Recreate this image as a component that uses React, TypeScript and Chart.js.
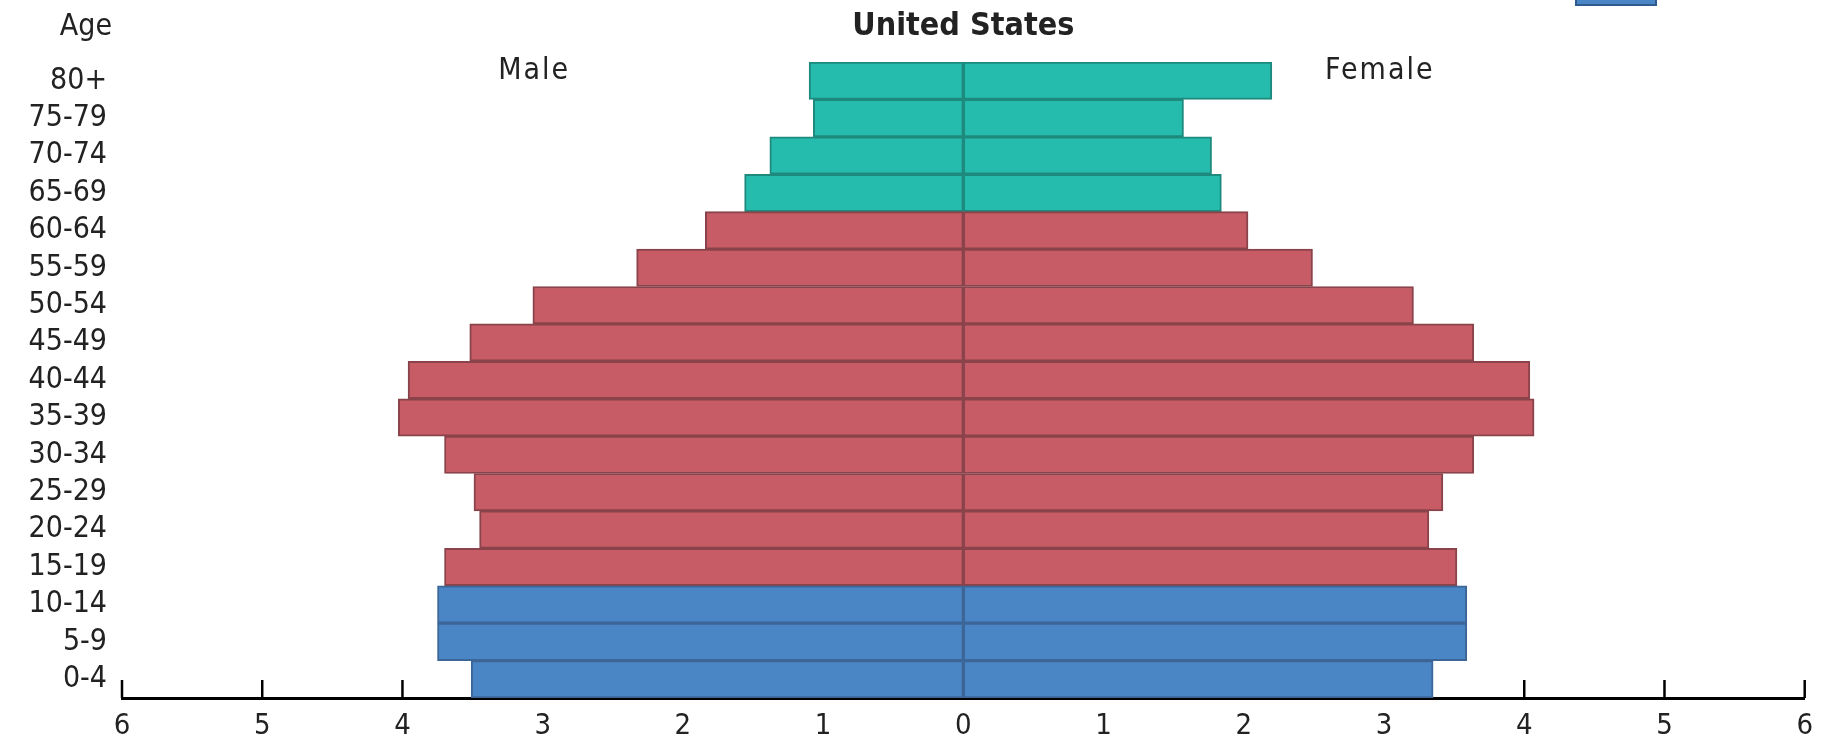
import React, { useEffect, useRef } from "react";
import { Chart, registerables } from "chart.js";

Chart.register(...registerables);

const ageGroups = [
  "80+", "75-79", "70-74", "65-69", "60-64", "55-59", "50-54", "45-49", "40-44",
  "35-39", "30-34", "25-29", "20-24", "15-19", "10-14", "5-9", "0-4",
];
// percent of population
const maleValues = [1.10, 1.07, 1.38, 1.56, 1.84, 2.33, 3.07, 3.52, 3.96, 4.03, 3.70, 3.49, 3.45, 3.70, 3.75, 3.75, 3.51];
const femaleValues = [2.20, 1.57, 1.77, 1.84, 2.03, 2.49, 3.21, 3.64, 4.04, 4.07, 3.64, 3.42, 3.32, 3.52, 3.59, 3.59, 3.35];
// age band per row: 0 = 65+, 1 = 15-64, 2 = 0-14
const bandOfGroup = [0, 0, 0, 0, 1, 1, 1, 1, 1, 1, 1, 1, 1, 1, 2, 2, 2];
const xTickValues = [-6, -5, -4, -3, -2, -1, 0, 1, 2, 3, 4, 5, 6];

const bandFill = ["#25BCAE", "#C75C66", "#4A86C5"];
const bandBorder = ["#1E8A7E", "#8A434A", "#3C6598"];

const FONT = "'DejaVu Sans Condensed', 'DejaVu Sans', sans-serif";

export default function App() {
  const canvasRef = useRef<HTMLCanvasElement | null>(null);

  useEffect(() => {
    const canvas = canvasRef.current;
    if (!canvas) return;

    const tickMarks = {
      id: "tickMarks",
      beforeDatasetsDraw(chart: any) {
        const { ctx, chartArea, scales } = chart;
        ctx.save();
        ctx.strokeStyle = "#000";
        ctx.lineWidth = 2.5;
        for (const v of xTickValues) {
          const px = scales.x.getPixelForValue(v);
          ctx.beginPath();
          ctx.moveTo(px, chartArea.bottom);
          ctx.lineTo(px, chartArea.bottom - 18);
          ctx.stroke();
        }
        ctx.restore();
      },
    };

    const labelsPlugin = {
      id: "labelsPlugin",
      afterDraw(chart: any) {
        const { ctx, chartArea, scales } = chart;
        ctx.save();
        ctx.fillStyle = "#222";
        ctx.textBaseline = "middle";
        ctx.font = `30px ${FONT}`;
        ctx.textAlign = "right";
        ctx.fillText("Age", chartArea.left - 10, 27);
        ctx.textAlign = "center";
        ctx.font = `bold 32px ${FONT}`;
        ctx.fillText("United States", scales.x.getPixelForValue(0), 27);
        ctx.font = `30px ${FONT}`;
        (ctx as any).letterSpacing = "2px";
        const yRow = scales.y.getPixelForValue(0) - 10;
        ctx.fillText("Male", scales.x.getPixelForValue(-3.06), yRow);
        ctx.fillText("Female", scales.x.getPixelForValue(2.97), yRow);
        (ctx as any).letterSpacing = "0px";
        ctx.restore();
      },
    };

    const fills = bandOfGroup.map((b) => bandFill[b]);
    const borders = bandOfGroup.map((b) => bandBorder[b]);

    const chart = new Chart(canvas, {
      type: "bar",
      data: {
        labels: ageGroups,
        datasets: [
          {
            label: "Male",
            data: maleValues.map((v) => -v),
            backgroundColor: fills,
            borderColor: borders,
            borderWidth: 2,
            borderSkipped: false,
            barPercentage: 1,
            categoryPercentage: 1,
          },
          {
            label: "Female",
            data: femaleValues,
            backgroundColor: fills,
            borderColor: borders,
            borderWidth: 2,
            borderSkipped: false,
            barPercentage: 1,
            categoryPercentage: 1,
          },
        ],
      },
      options: {
        indexAxis: "y",
        responsive: false,
        maintainAspectRatio: false,
        animation: false,
        layout: { padding: { top: 62, right: 13, left: 0, bottom: 0 } },
        plugins: {
          legend: { display: false },
          tooltip: { enabled: false },
          title: { display: false },
        },
        scales: {
          x: {
            type: "linear",
            min: -6,
            max: 6,
            stacked: true,
            grid: { display: false, drawTicks: false },
            border: { display: true, color: "#000", width: 3 },
            ticks: {
              stepSize: 1,
              autoSkip: false,
              maxRotation: 0,
              color: "#222",
              padding: 11,
              font: { family: FONT, size: 29 },
              callback: (v: any) => String(Math.abs(Number(v))),
            },
            afterFit: (s: any) => {
              s.height = 40;
            },
          },
          y: {
            stacked: true,
            grid: { display: false, drawTicks: false },
            border: { display: false },
            ticks: {
              color: "#222",
              padding: 15,
              autoSkip: false,
              font: { family: FONT, size: 30 },
            },
            afterFit: (s: any) => {
              s.width = 122;
            },
          },
        },
      },
      plugins: [tickMarks, labelsPlugin],
    });

    return () => chart.destroy();
  }, []);

  return (
    <div style={{ position: "fixed", left: 0, top: 0, width: 1824, height: 738, background: "#fff", overflow: "hidden" }}>
      <canvas ref={canvasRef} width={1824} height={738} style={{ display: "block", width: 1824, height: 738 }} />
      <div
        style={{
          position: "absolute",
          left: 1575,
          top: -20,
          width: 78,
          height: 22,
          background: "#4A86C5",
          border: "2px solid #2F5A8E",
        }}
      />
    </div>
  );
}
